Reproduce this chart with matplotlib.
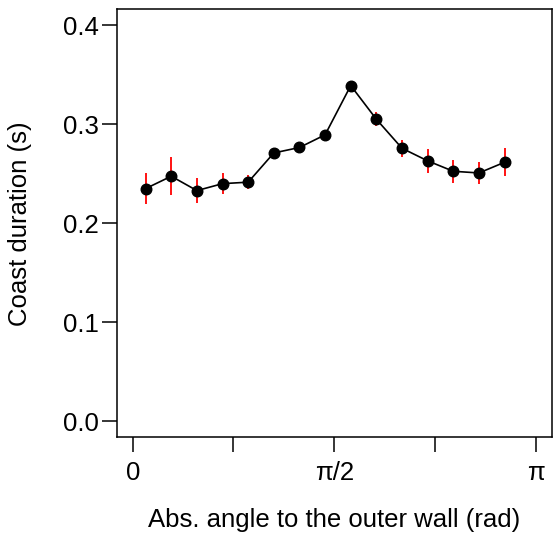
"""
coast duration vs absolute angle to the outer wall
"""
import numpy as np
import matplotlib
matplotlib.use('Agg')
import matplotlib.pyplot as plt

# --- Data (bin centres in rad, mean coast duration and its error)
angle    = [0.1, 0.3, 0.5, 0.7, 0.9, 1.1, 1.3, 1.5, 1.7, 1.9, 2.1, 2.3, 2.5, 2.7, 2.9]
duration = [0.235, 0.2475, 0.233, 0.240, 0.2415, 0.271, 0.2765, 0.2893, 0.339,
            0.305, 0.2757, 0.263, 0.2525, 0.2508, 0.2616]
err      = [0.0154, 0.019, 0.0123, 0.0106, 0.007, 0.004, 0.004, 0.004, 0.004,
            0.007, 0.0084, 0.0118, 0.0114, 0.011, 0.0139]

xticks      = [0, np.pi/4, np.pi/2, 3*np.pi/4, np.pi]
xticklabels = ['0', '', 'π/2', '', 'π']
yticks      = [0.0, 0.1, 0.2, 0.3, 0.4]

# --- Plot
plt.rcParams['font.family'] = ['Liberation Sans', 'DejaVu Sans']
fig, ax = plt.subplots(1, 1, figsize=(5.53, 5.37), dpi=100)
fig.subplots_adjust(left=0.211, right=0.9976, top=0.9827, bottom=0.1857)

ax.errorbar(angle, duration, yerr=err, fmt='none', ecolor='red', elinewidth=1.3, capsize=0, zorder=2)
ax.plot(angle, duration, '-o', color='black', lw=1.2, ms=7.6, zorder=3)

ax.set_xlim(-0.04*np.pi, 1.04*np.pi)
ax.set_ylim(-0.016, 0.416)
ax.set_xticks(xticks)
ax.set_xticklabels(xticklabels)
ax.set_yticks(yticks)
ax.set_yticklabels(['%.1f' % v for v in yticks])
ax.tick_params(direction='out', length=11, width=1.1, labelsize=18.5)
ax.tick_params(axis='x', pad=6)
ax.tick_params(axis='y', pad=2)
for s in ax.spines.values():
    s.set_linewidth(1.1)

ax.set_xlabel('Abs. angle to the outer wall (rad)', fontsize=18.5, va='center')
ax.set_ylabel('Coast duration (s)', fontsize=18.5, va='center')
ax.xaxis.set_label_coords(0.5, -0.193)
ax.yaxis.set_label_coords(-0.2234, 0.5)

fig.savefig('out.png', dpi=100)
